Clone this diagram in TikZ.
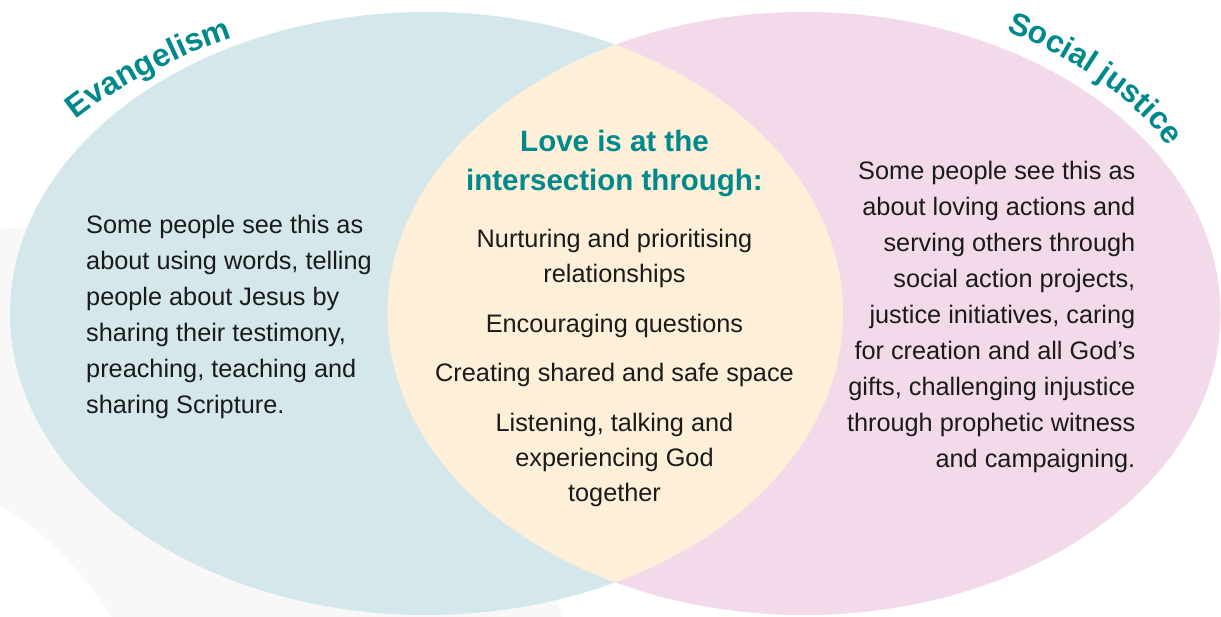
\documentclass[tikz,border=0pt]{standalone}
\usepackage{fontspec}
\setmainfont{Liberation Sans}
\usetikzlibrary{decorations.text}
\definecolor{bluefill}{HTML}{D4E7EB}
\definecolor{pinkfill}{HTML}{F3DAEB}
\definecolor{yellowfill}{HTML}{FEF0D8}
\definecolor{tealtxt}{HTML}{00898C}
\definecolor{ink}{HTML}{1A1A1A}
\definecolor{ghost}{HTML}{F8F8F8}
\newcommand{\hdfontA}{\fontsize{32}{38}\selectfont\bfseries}
\newcommand{\hdfontB}{\fontsize{31.5}{36}\selectfont\bfseries}
\tikzset{
  body/.style={font=\fontsize{25.3}{36}\selectfont, text=ink, inner sep=0pt},
  ltxt/.style={body, anchor=base west},
  rtxt/.style={body, anchor=base east},
  ctxt/.style={body, anchor=base},
  head/.style={font=\fontsize{29.5}{40}\selectfont\bfseries, text=tealtxt, inner sep=0pt, anchor=base},
  arctitle/.style 2 args={decorate, decoration={text along path, text align=center, text color=tealtxt, text={|#1|#2}}}
}
\begin{document}
\begin{tikzpicture}[x=1pt,y=-1pt]
\useasboundingbox (0,0) rectangle (1221,617);
% faint background band
\fill[ghost] (0,229) .. controls (300,200) and (520,450) .. (562,617)
  -- (112,617) .. controls (85,575) and (45,530) .. (0,505) -- cycle;
% circles
\coordinate (Lc) at (426.5,313.5);
\coordinate (Rc) at (804,313.5);
\fill[bluefill] (Lc) ellipse [x radius=416.5pt, y radius=301.5pt];
\fill[pinkfill] (Rc) ellipse [x radius=416.5pt, y radius=301.5pt];
\begin{scope}
  \clip (Lc) ellipse [x radius=416.5pt, y radius=301.5pt];
  \fill[yellowfill] (Rc) ellipse [x radius=416.5pt, y radius=301.5pt];
\end{scope}
% arc titles
\path[arctitle={\hdfontA}{Evangelism}] (62,130) -- (78,118) .. controls (117,87) and (184,53) .. (232,38) -- (249,32.5);
\path[arctitle={\hdfontB}{Social justice}] (992,26.5) -- (1008,32) .. controls (1059.7,50.8) and (1137,98.9) .. (1167,145) -- (1176,159);
% centre heading
\node[head] (H1) at (614.5,152) {Love is at the};
\node[head] (H2) at (614.5,191) {intersection through:};
% left text
\foreach \t [count=\i from 0] in {Some people see this as, {about using words, telling}, people about Jesus by, {sharing their testimony,}, {preaching, teaching and}, sharing Scripture.}
  \node[ltxt] (L\i) at (86,234+35.85*\i) {\t};
% right text
\foreach \t [count=\i from 0] in {Some people see this as, about loving actions and, serving others through, {social action projects,}, {justice initiatives, caring}, for creation and all God’s, {gifts, challenging injustice}, through prophetic witness, and campaigning.}
  \node[rtxt] (R\i) at (1135.5,180+35.9*\i) {\t};
% centre items
\node[ctxt] (C1) at (614.5,247.5) {Nurturing and prioritising};
\node[ctxt] (C2) at (614.5,282.5) {relationships};
\node[ctxt] (C3) at (614.5,333) {Encouraging questions};
\node[ctxt] (C4) at (614.5,382) {Creating shared and safe space};
\node[ctxt] (C5) at (614.5,431.5) {Listening, talking and};
\node[ctxt] (C6) at (614.5,466.5) {experiencing God};
\node[ctxt] (C7) at (614.5,501) {together};
\end{tikzpicture}
\end{document}
